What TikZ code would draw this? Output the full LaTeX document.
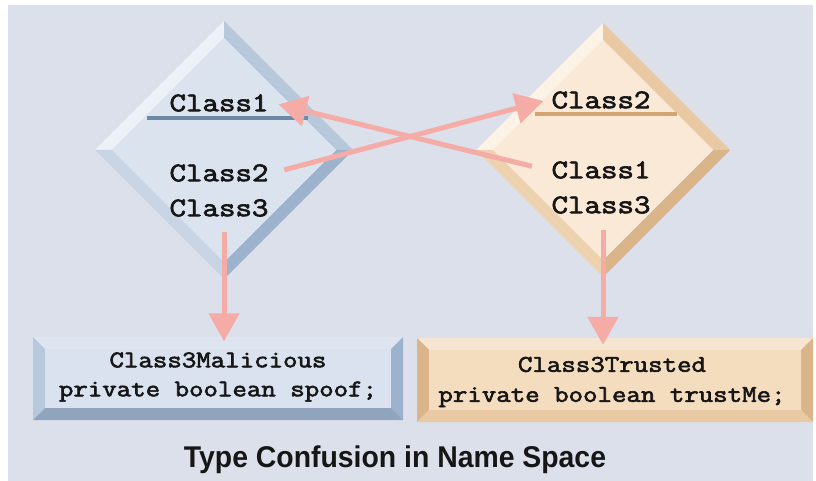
\documentclass[tikz,border=0pt]{standalone}
\usepackage{fontspec}
\newfontfamily\codefont{Latin Modern Mono}[FakeBold=2.4]
\newfontfamily\titlefont{Liberation Sans}
\usetikzlibrary{arrows.meta,calc}
\newcommand{\dtxt}[1]{\scalebox{1.185}[1]{#1}}
\newcommand{\btxt}[1]{\scalebox{1.17}[1]{#1}}
\definecolor{bg}{RGB}{220,224,234}
\definecolor{txt}{RGB}{22,22,22}
\definecolor{arrowpink}{RGB}{245,172,166}
% blue set
\definecolor{bface}{RGB}{219,227,239}
\definecolor{bTL}{RGB}{236,241,248}
\definecolor{bTR}{RGB}{182,200,220}
\definecolor{bBR}{RGB}{156,178,205}
\definecolor{bBL}{RGB}{200,212,228}
\definecolor{bline}{RGB}{110,136,166}
% tan set
\definecolor{tface}{RGB}{250,233,215}
\definecolor{tTL}{RGB}{252,242,229}
\definecolor{tTR}{RGB}{232,201,163}
\definecolor{tBR}{RGB}{218,181,138}
\definecolor{tBL}{RGB}{238,210,176}
\definecolor{tline}{RGB}{210,166,116}
\definecolor{tbox}{RGB}{244,220,190}
\begin{document}
\begin{tikzpicture}[x=1bp,y=-1bp,
  arr/.style={draw=arrowpink, line width=5bp, -{Triangle[length=28bp,width=30bp]}},
  dtext/.style={font=\codefont\fontsize{27bp}{35bp}\selectfont, inner sep=4bp, text=txt},
  btext/.style={font=\codefont\fontsize{24bp}{29bp}\selectfont, align=center, text=txt, inner sep=0pt}]
\useasboundingbox (0,0) rectangle (816,481);
\fill[white] (0,0) rectangle (816,481);
\fill[bg] (8,5) rectangle (813,481);

% ---- left diamond (blue)
\coordinate (ld) at (224,150);
\def\R{129}\def\r{112}
\fill[bTL] ($(ld)+(-\R,0)$) -- ($(ld)+(0,-\R)$) -- ($(ld)+(0,-\r)$) -- ($(ld)+(-\r,0)$) -- cycle;
\fill[bTR] ($(ld)+(0,-\R)$) -- ($(ld)+(\R,0)$) -- ($(ld)+(\r,0)$) -- ($(ld)+(0,-\r)$) -- cycle;
\fill[bBR] ($(ld)+(\R,0)$) -- ($(ld)+(0,\R)$) -- ($(ld)+(0,\r)$) -- ($(ld)+(\r,0)$) -- cycle;
\fill[bBL] ($(ld)+(0,\R)$) -- ($(ld)+(-\R,0)$) -- ($(ld)+(-\r,0)$) -- ($(ld)+(0,\r)$) -- cycle;
\fill[bface] ($(ld)+(-\r,0)$) -- ($(ld)+(0,-\r)$) -- ($(ld)+(\r,0)$) -- ($(ld)+(0,\r)$) -- cycle;

% ---- right diamond (tan)
\coordinate (rd) at (603,150);
\def\R{127}\def\r{110}
\fill[tTL] ($(rd)+(-\R,0)$) -- ($(rd)+(0,-\R)$) -- ($(rd)+(0,-\r)$) -- ($(rd)+(-\r,0)$) -- cycle;
\fill[tTR] ($(rd)+(0,-\R)$) -- ($(rd)+(\R,0)$) -- ($(rd)+(\r,0)$) -- ($(rd)+(0,-\r)$) -- cycle;
\fill[tBR] ($(rd)+(\R,0)$) -- ($(rd)+(0,\R)$) -- ($(rd)+(0,\r)$) -- ($(rd)+(\r,0)$) -- cycle;
\fill[tBL] ($(rd)+(0,\R)$) -- ($(rd)+(-\R,0)$) -- ($(rd)+(-\r,0)$) -- ($(rd)+(0,\r)$) -- cycle;
\fill[tface] ($(rd)+(-\r,0)$) -- ($(rd)+(0,-\r)$) -- ($(rd)+(\r,0)$) -- ($(rd)+(0,\r)$) -- cycle;

% ---- left box (blue)
\fill[bTL!70!bTR] (33,337) -- (403,337) -- (391,349) -- (45,349) -- cycle;
\fill[bTR] (33,337) -- (45,349) -- (45,408) -- (33,420) -- cycle;
\fill[bBR] (403,337) -- (403,420) -- (391,408) -- (391,349) -- cycle;
\fill[bBR!92!black] (33,420) -- (403,420) -- (391,408) -- (45,408) -- cycle;
\fill[bface!95!bTR] (45,349) rectangle (391,408);

% ---- right box (tan)
\fill[tTL!60!tBL] (417,338) -- (813,338) -- (801,350) -- (429,350) -- cycle;
\fill[tBR] (417,338) -- (429,350) -- (429,410) -- (417,422) -- cycle;
\fill[tBR] (813,338) -- (813,422) -- (801,410) -- (801,350) -- cycle;
\fill[tTR] (417,422) -- (813,422) -- (801,410) -- (429,410) -- cycle;
\fill[tbox] (429,350) rectangle (801,410);

% ---- underlines
\draw[bline, line width=4bp] (147,118) -- (308,118);
\draw[tline, line width=4bp] (535,114) -- (677,114);

% ---- texts
\node[dtext] (lc1) at (219,103) {\dtxt{Class1}};
\node[dtext] (lc2) at (219,173) {\dtxt{Class2}};
\node[dtext] (lc3) at (219,208) {\dtxt{Class3}};
\node[dtext] (rc2) at (601,100) {\dtxt{Class2}};
\node[dtext] (rc1) at (601,170) {\dtxt{Class1}};
\node[dtext] (rc3) at (601,205) {\dtxt{Class3}};

\node[btext, minimum width=370bp, minimum height=83bp] (lbox) at (218,377)
  {\btxt{Class3Malicious}\\\btxt{private boolean spoof;}};
\node[btext, minimum width=396bp, minimum height=84bp] (rbox) at (612,382)
  {\btxt{Class3Trusted}\\[1bp]\btxt{private boolean trustMe;}};

\node[anchor=base, text=txt, inner sep=0pt] (title) at (395,467)
  {\titlefont\bfseries\fontsize{30bp}{36bp}\selectfont\scalebox{0.946}[1]{Type Confusion in Name Space}};

% ---- arrows
\draw[arr, shorten <=16bp, shorten >=6bp] (rc1.west) -- (lc1.east);
\draw[arr, shorten <=12bp, shorten >=4bp] (lc2.east) -- (rc2.west);
\draw[arr, shorten >=-6bp] ($(ld)+(0,82)$) -- (ld |- lbox.north);
\draw[arr, shorten >=-5bp] ($(rd)+(0,80)$) -- (rd |- rbox.north);
\end{tikzpicture}
\end{document}
